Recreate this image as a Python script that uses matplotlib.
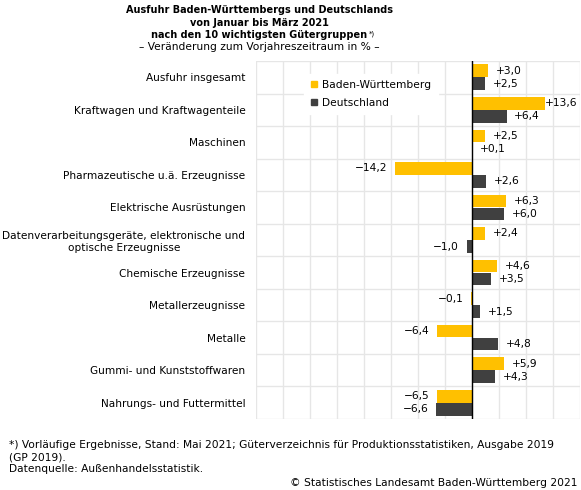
import numpy as np
import matplotlib
matplotlib.use("Agg")
import matplotlib.pyplot as plt
from matplotlib.patches import Patch

plt.rcParams['font.family'] = ['DejaVu Sans']

categories = ["Ausfuhr insgesamt",
              "Kraftwagen und Kraftwagenteile",
              "Maschinen",
              "Pharmazeutische u.ä. Erzeugnisse",
              "Elektrische Ausrüstungen",
              "Datenverarbeitungsgeräte, elektronische und\noptische Erzeugnisse",
              "Chemische Erzeugnisse",
              "Metallerzeugnisse",
              "Metalle",
              "Gummi- und Kunststoffwaren",
              "Nahrungs- und Futtermittel"]
bw = [3.0, 13.6, 2.5, -14.2, 6.3, 2.4, 4.6, -0.1, -6.4, 5.9, -6.5]
de = [2.5, 6.4, 0.1, 2.6, 6.0, -1.0, 3.5, 1.5, 4.8, 4.3, -6.6]
series_names = ["Baden-Württemberg", "Deutschland"]

c_bw = "#ffc000"
c_de = "#404040"
fs = 7.7
fs_tick = 7.6
fs_title = 7.0
xc = 259.5 / 581  # title centre

def fmt(v):
    s = f"{v:+.1f}".replace(".", ",")
    return s.replace("-", "\u2212")

fig = plt.figure(figsize=(5.81, 4.90), dpi=100)
ax = fig.add_axes([0.4401, 0.1449, 0.5582, 0.7306])

y = np.arange(len(categories))
h = 0.39
ax.barh(y - 0.2, bw, height=h, color=c_bw, zorder=3)
ax.barh(y + 0.2, de, height=h, color=c_de, zorder=3)

ax.set_xlim(-40, 20)
ax.set_ylim(len(categories) - 0.5, -0.5)

for xv in np.arange(-40, 21, 5):
    ax.axvline(xv, color="#e6e6e6", lw=1.0, zorder=1)
for yv in np.arange(-0.5, len(categories), 1):
    ax.axhline(yv, color="#e6e6e6", lw=1.0, zorder=1)
ax.axvline(0, color="black", lw=1.0, zorder=4)

for vals, off in ((bw, -0.2), (de, 0.2)):
    for i, v in enumerate(vals):
        if v >= 0:
            if v > 12:
                ax.annotate(fmt(v), (20, i + off), xytext=(-2, 0), textcoords="offset points",
                            ha="right", va="center", fontsize=fs, zorder=5)
            else:
                ax.annotate(fmt(v), (v, i + off), xytext=(5.5, 0), textcoords="offset points",
                            ha="left", va="center", fontsize=fs, zorder=5)
        else:
            ax.annotate(fmt(v), (v, i + off), xytext=(-5.5, 0), textcoords="offset points",
                        ha="right", va="center", fontsize=fs, zorder=5)

ax.set_yticks(y)
ax.set_yticklabels(categories, fontsize=fs_tick, ha="right", multialignment="center")
ax.tick_params(axis="y", length=0, pad=7.5)
ax.set_xticks([])
for sp in ax.spines.values():
    sp.set_visible(False)

handles = [Patch(color=c_bw), Patch(color=c_de)]
leg = ax.legend(handles, series_names, loc="upper left", bbox_to_anchor=(0.15, 0.965),
                borderaxespad=0, fontsize=fs, handlelength=0.55, handleheight=0.55,
                handletextpad=0.5, labelspacing=0.75, borderpad=0.6,
                frameon=True, fancybox=False)
leg.get_frame().set_edgecolor("white")
leg.get_frame().set_facecolor("white")
leg.get_frame().set_alpha(1)
leg.set_zorder(6)

fig.text(xc, 1 - 10 / 490, "Ausfuhr Baden-Württembergs und Deutschlands",
         ha="center", va="center", fontsize=fs_title, fontweight="bold")
fig.text(xc, 1 - 23 / 490, "von Januar bis März 2021",
         ha="center", va="center", fontsize=fs_title, fontweight="bold")
t3 = fig.text(xc, 1 - 35.5 / 490, "nach den 10 wichtigsten Gütergruppen",
              ha="center", va="center", fontsize=fs_title, fontweight="bold")
ax.annotate("*)", xy=(1, 1), xycoords=t3, xytext=(1, 0), textcoords="offset points",
            ha="left", va="top", fontsize=5, annotation_clip=False)
fig.text(xc, 1 - 47.5 / 490, "\u2013 Veränderung zum Vorjahreszeitraum in % \u2013",
         ha="center", va="center", fontsize=fs)

fig.text(9 / 581, 1 - 445 / 490,
         "*) Vorläufige Ergebnisse, Stand: Mai 2021; Güterverzeichnis für Produktionsstatistiken, Ausgabe 2019",
         ha="left", va="center", fontsize=fs)
fig.text(9 / 581, 1 - 457 / 490, "(GP 2019).", ha="left", va="center", fontsize=fs)
fig.text(9 / 581, 1 - 469 / 490, "Datenquelle: Außenhandelsstatistik.", ha="left", va="center", fontsize=fs)
fig.text(577 / 581, 1 - 483 / 490, "© Statistisches Landesamt Baden-Württemberg 2021",
         ha="right", va="center", fontsize=fs)

fig.savefig("out.png", dpi=100)
